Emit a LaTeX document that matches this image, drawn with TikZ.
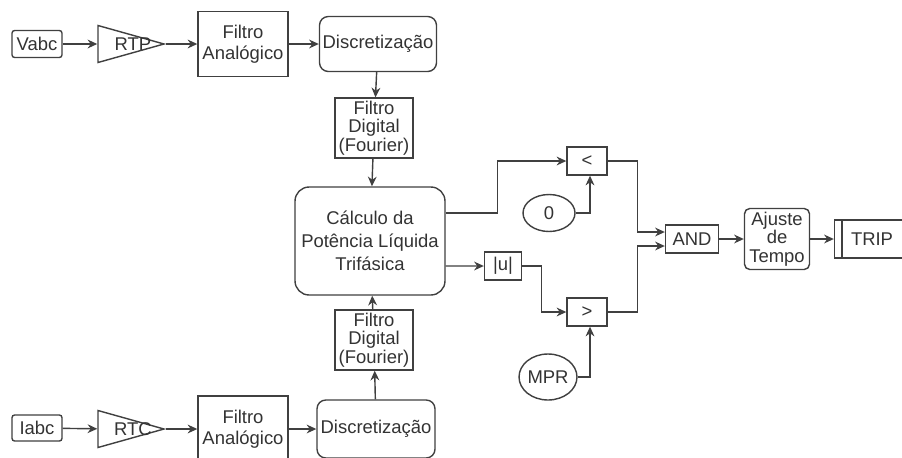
\documentclass[tikz,border=0pt]{standalone}
\usepackage{fontspec}
\setmainfont{Liberation Sans}
\usetikzlibrary{arrows.meta,shapes.geometric}

\begin{document}
\begin{tikzpicture}[x=0.02cm, y=-0.02cm, >=Stealth,
    every node/.style={font=\fontsize{10.5}{12}\selectfont, text=black!80, align=center, inner sep=0pt},
    tight/.style={font=\fontsize{10.5}{10.4}\selectfont},
    blk/.style={draw=black!75, line width=0.8pt, rectangle},
    rblk/.style={blk, rounded corners=#1},
    gain/.style={draw=black!75, line width=0.8pt, isosceles triangle, isosceles triangle stretches,
        minimum width=0.74cm, minimum height=1.32cm},
    cst/.style={draw=black!75, line width=0.8pt, ellipse},
    conn/.style={draw=black!75, line width=0.8pt, -{Stealth[length=5.5pt,width=5pt]}}
]

    %% Background
    \useasboundingbox[fill=white] (0,0) rectangle (902,457);

    % Tensao
    \node[rblk=1.5pt, minimum width=1cm, minimum height=0.54cm] (vabc) at (37,44) {Vabc};
    \node[gain] (rtp) at (112,44) {};
    \node (rtptxt) at (133,44) {RTP};
    \node[blk, minimum width=1.8cm, minimum height=1.3cm] (fav) at (243,44) {Filtro\\Anal\'ogico};
    \node[rblk=5pt, minimum width=2.34cm, minimum height=1.1cm] (discv) at (378,44) {Discretiza\c{c}\~ao};
    \node[blk, tight, minimum width=1.56cm, minimum height=1.2cm] (fdv) at (374,128) {Filtro\\Digital\\(Fourier)};

    % Corrente
    \node[rblk=1.5pt, minimum width=1cm, minimum height=0.52cm] (iabc) at (37,428) {Iabc};
    \node[gain] (rtc) at (112,429) {};
    \node (rtctxt) at (133,429) {RTC};
    \node[blk, minimum width=1.8cm, minimum height=1.32cm] (fai) at (243,429) {Filtro\\Anal\'ogico};
    \node[rblk=5pt, minimum width=2.36cm, minimum height=1.16cm] (disci) at (376,429) {Discretiza\c{c}\~ao};
    \node[blk, tight, minimum width=1.56cm, minimum height=1.2cm] (fdi) at (374,340) {Filtro\\Digital\\(Fourier)};

    % Potencia
    \node[rblk=8pt, minimum width=3cm, minimum height=2.16cm, font=\fontsize{10.5}{13}\selectfont] (calc) at (370,241)
        {C\'alculo da\\Pot\^encia L\'iquida\\Trif\'asica};

    % Comparadores
    \node[blk, minimum width=0.8cm, minimum height=0.56cm] (lt) at (587,161) {<};
    \node[cst, minimum width=1.04cm, minimum height=0.74cm] (zero) at (549,213) {0};
    \node[blk, minimum width=0.74cm, minimum height=0.56cm] (abs) at (503,266) {|u|};
    \node[blk, minimum width=0.8cm, minimum height=0.56cm] (gt) at (587,312) {>};
    \node[cst, minimum width=0.98cm, minimum height=0.92cm] (mpr) at (548,377) {MPR};

    % Saida
    \node[blk, minimum width=1.06cm, minimum height=0.56cm] (and) at (692,239) {AND};
    \node[rblk=3pt, tight, minimum width=1.3cm, minimum height=1.22cm] (ajuste) at (777,239) {Ajuste\\de\\Tempo};
    \node[blk, minimum width=1.5cm, minimum height=0.76cm] (trip) at (872,239) {TRIP};
    \draw[draw=black!75, line width=0.8pt] ([xshift=0.16cm]trip.north west) -- ([xshift=0.16cm]trip.south west);

    % Ligacoes
    \draw[conn] (vabc) -- (rtp);
    \draw[conn] (rtp.east) -- (fav);
    \draw[conn] (fav) -- (discv);
    \draw[conn] (discv) -- (fdv);
    \draw[conn] (fdv) -- (calc);

    \draw[conn] (iabc) -- (rtc);
    \draw[conn] (rtc.east) -- (fai);
    \draw[conn] (fai) -- (disci);
    \draw[conn] (disci) -- (fdi);
    \draw[conn] (fdi) -- (calc);

    \draw[conn] ([yshift=0.56cm]calc.east) -- ++(52,0) |- (lt.west);
    \draw[conn] ([yshift=-0.5cm]calc.east) -- (abs.west);
    \draw[conn] (zero.east) -| ([xshift=0.06cm]lt.south);
    \draw[conn] (abs.east) -- ++(19,0) |- (gt.west);
    \draw[conn] (mpr.east) -| ([xshift=0.06cm]gt.south);

    \draw[conn] (lt.east) -- ++(30,0) |- ([yshift=0.14cm]and.west);
    \draw[conn] (gt.east) -- ++(30,0) |- ([yshift=-0.14cm]and.west);
    \draw[conn] (and) -- (ajuste);
    \draw[conn] (ajuste) -- (trip);

\end{tikzpicture}
\end{document}
